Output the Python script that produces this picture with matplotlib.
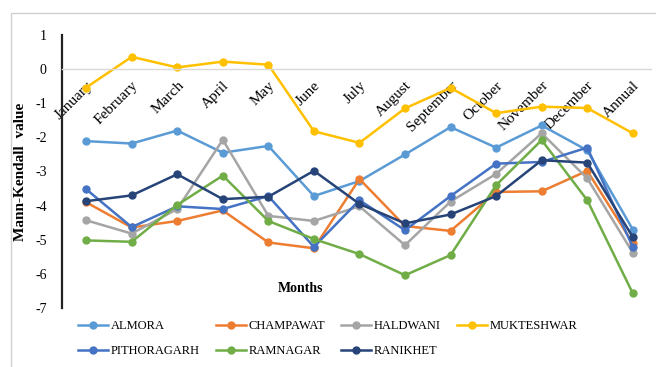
import numpy as np
import matplotlib
matplotlib.use("Agg")
from matplotlib import pyplot as plt
from matplotlib.patches import Rectangle

months = ['January', 'February', 'March', 'April', 'May', 'June', 'July',
          'August', 'September', 'October', 'November', 'December', 'Annual']

almora      = [-2.11, -2.18, -1.80, -2.45, -2.25, -3.72, -3.28, -2.50, -1.70, -2.30, -1.65, -2.38, -4.70]
champawat   = [-3.90, -4.64, -4.45, -4.14, -5.08, -5.25, -3.22, -4.60, -4.74, -3.60, -3.58, -2.98, -5.10]
haldwani    = [-4.43, -4.82, -4.10, -2.07, -4.30, -4.45, -4.02, -5.16, -3.88, -3.07, -1.88, -3.20, -5.38]
mukteshwar  = [-0.54, 0.36, 0.05, 0.22, 0.13, -1.82, -2.16, -1.15, -0.55, -1.29, -1.10, -1.14, -1.88]
pithoragarh = [-3.52, -4.63, -4.02, -4.10, -3.72, -5.21, -3.84, -4.72, -3.72, -2.77, -2.72, -2.30, -5.21]
ramnagar    = [-5.02, -5.06, -3.98, -3.12, -4.45, -4.98, -5.42, -6.04, -5.45, -3.40, -2.08, -3.84, -6.57]
ranikhet    = [-3.87, -3.70, -3.08, -3.81, -3.74, -2.98, -3.95, -4.52, -4.26, -3.72, -2.67, -2.74, -4.92]

series = [('ALMORA', almora, '#5B9BD5'),
          ('CHAMPAWAT', champawat, '#ED7D31'),
          ('HALDWANI', haldwani, '#A5A5A5'),
          ('MUKTESHWAR', mukteshwar, '#FFC000'),
          ('PITHORAGARH', pithoragarh, '#4472C4'),
          ('RAMNAGAR', ramnagar, '#70AD47'),
          ('RANIKHET', ranikhet, '#264478')]

plt.rcParams['font.family'] = ['Liberation Serif', 'DejaVu Serif']
plt.rcParams['axes.unicode_minus'] = False

fig = plt.figure(figsize=(6.56, 3.67), dpi=100)
ax = fig.add_axes([62/656, 1 - 308/367, (651 - 62)/656, (308 - 35)/367])

x = np.arange(len(months))
handles = {}
for name, vals, col in series:
    h, = ax.plot(x, vals, color=col, lw=1.8, marker='o', ms=5, label=name)
    handles[name] = h

ax.set_xlim(-0.53, 12.4)
ax.set_ylim(-7, 1)
ax.set_yticks(range(-7, 2))
ax.tick_params(axis='y', length=0, pad=11, labelsize=10)

# horizontal axis sits at zero, month labels hang below it
ax.spines['bottom'].set_position(('data', 0))
ax.spines['bottom'].set_color('#D9D9D9')
ax.spines['bottom'].set_linewidth(1.0)
ax.spines['top'].set_visible(False)
ax.spines['right'].set_visible(False)
ax.spines['left'].set_color('#222222')
ax.spines['left'].set_linewidth(1.6)
ax.set_xticks(x)
ax.set_xticklabels(months, rotation=45, ha='right', rotation_mode='anchor', fontsize=11)
ax.tick_params(axis='x', length=0, pad=7)

ax.set_ylabel('Mann-Kendall  value', fontsize=11, fontweight='bold', labelpad=6)
ax.text(301, 367 - 288, 'Months', transform=None, fontsize=10, fontweight='bold',
        ha='center', va='center')

order = ['ALMORA', 'PITHORAGARH', 'CHAMPAWAT', 'RAMNAGAR', 'HALDWANI', 'RANIKHET', 'MUKTESHWAR']
fig.legend([handles[n] for n in order], order, ncol=4, loc='upper left',
           bbox_to_anchor=(78/656, 1 - 320/367), frameon=False, fontsize=9,
           handlelength=2.4, handletextpad=0.2, columnspacing=1.3,
           labelspacing=1.05, borderaxespad=0, borderpad=0)

# outer chart frame (cropped on the right and bottom)
fig.patches.append(Rectangle((11/656, -0.05), 1.0, 1 - 13/367 + 0.05,
                             transform=fig.transFigure, fill=False,
                             edgecolor='#D0D0D0', lw=1.0))

fig.savefig('out.png', dpi=100)
